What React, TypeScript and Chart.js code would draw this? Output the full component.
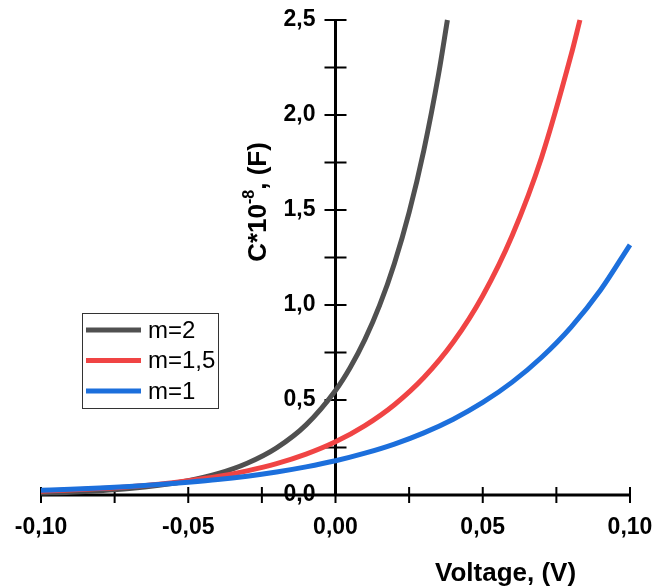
import React, { useEffect, useRef } from "react";
import { Chart, registerables } from "chart.js";

Chart.register(...registerables);

// ---- data ----
const voltageM2 = [-0.10, -0.09, -0.08, -0.07, -0.06, -0.05, -0.04, -0.03, -0.02, -0.01, 0.0, 0.005, 0.01, 0.015, 0.02, 0.025, 0.03, 0.035, 0.038];
const capM2 = [0.010, 0.015, 0.023, 0.034, 0.051, 0.075, 0.112, 0.167, 0.248, 0.369, 0.55, 0.671, 0.819, 0.999, 1.219, 1.488, 1.815, 2.215, 2.5];

const voltageM15 = [-0.10, -0.09, -0.08, -0.07, -0.06, -0.05, -0.04, -0.03, -0.02, -0.01, 0.0, 0.01, 0.02, 0.03, 0.04, 0.05, 0.06, 0.07, 0.08, 0.083];
const capM15 = [0.020, 0.026, 0.034, 0.044, 0.057, 0.075, 0.097, 0.127, 0.165, 0.215, 0.28, 0.365, 0.475, 0.618, 0.805, 1.049, 1.366, 1.778, 2.316, 2.5];

const voltageM1 = [-0.10, -0.09, -0.08, -0.07, -0.06, -0.05, -0.04, -0.03, -0.02, -0.01, 0.0, 0.01, 0.02, 0.03, 0.04, 0.05, 0.06, 0.07, 0.08, 0.09, 0.10];
const capM1 = [0.025, 0.030, 0.037, 0.045, 0.055, 0.067, 0.081, 0.099, 0.121, 0.148, 0.18, 0.220, 0.268, 0.327, 0.399, 0.487, 0.594, 0.725, 0.884, 1.079, 1.317];

const seriesNames = ["m=2", "m=1,5", "m=1"];
const seriesColors = ["#505050", "#f04444", "#1c6fdc"];

const xMajorTicks = [-0.10, -0.05, 0.0, 0.05, 0.10];
const xTickLabels = ["-0,10", "-0,05", "0,00", "0,05", "0,10"];
const xMinorTicks = [-0.075, -0.025, 0.025, 0.075];

const yMajorTicks = [0.0, 0.5, 1.0, 1.5, 2.0, 2.5];
const yTickLabels = ["0,0", "0,5", "1,0", "1,5", "2,0", "2,5"];
const yMinorTicks = [0.25, 0.75, 1.25, 1.75, 2.25];

const xTitle = "Voltage, (V)";
const yTitleMain = "C*10";
const yTitleSup = "-8";
const yTitleTail = ", (F)";

const FONT = "'Liberation Sans', Arial, sans-serif";

const toPoints = (xs: number[], ys: number[]) => xs.map((x, i) => ({ x, y: ys[i] }));

const axesPlugin = {
  id: "customAxes",
  beforeDatasetsDraw(chart: any) {
    const ctx = chart.ctx as CanvasRenderingContext2D;
    const xs = chart.scales.x;
    const ys = chart.scales.y;
    const x0 = xs.getPixelForValue(0);
    const y0 = ys.getPixelForValue(0);
    ctx.save();
    ctx.fillStyle = "#000";
    // tick labels
    ctx.font = `bold 23px ${FONT}`;
    ctx.textAlign = "center";
    ctx.textBaseline = "middle";
    xMajorTicks.forEach((v, i) => {
      ctx.fillText(xTickLabels[i], xs.getPixelForValue(v), y0 + 33);
    });
    ctx.textAlign = "right";
    yMajorTicks.forEach((v, i) => {
      ctx.fillText(yTickLabels[i], x0 - 20, ys.getPixelForValue(v));
    });
    // axis lines
    ctx.strokeStyle = "#000";
    ctx.lineWidth = 3;
    ctx.lineCap = "butt";
    ctx.beginPath();
    ctx.moveTo(xs.getPixelForValue(-0.1) - 1, y0);
    ctx.lineTo(xs.getPixelForValue(0.1) + 1, y0);
    ctx.moveTo(x0, y0 + 1);
    ctx.lineTo(x0, ys.getPixelForValue(2.5) - 1);
    ctx.stroke();
    // ticks
    ctx.lineWidth = 2;
    ctx.beginPath();
    [...xMajorTicks, ...xMinorTicks].forEach((v) => {
      const px = xs.getPixelForValue(v);
      ctx.moveTo(px, y0 - 8);
      ctx.lineTo(px, y0 + 8);
    });
    [...yMajorTicks, ...yMinorTicks].forEach((v) => {
      const py = ys.getPixelForValue(v);
      ctx.moveTo(x0 - 11, py);
      ctx.lineTo(x0 + 11, py);
    });
    ctx.stroke();
    // x title
    ctx.font = `bold 26px ${FONT}`;
    ctx.textAlign = "left";
    ctx.textBaseline = "middle";
    ctx.fillText(xTitle, 435, 574);
    // y title (rotated)
    ctx.translate(257, 202);
    ctx.rotate(-Math.PI / 2);
    const mainFont = `bold 26px ${FONT}`;
    const supFont = `bold 16px ${FONT}`;
    ctx.font = mainFont;
    const w1 = ctx.measureText(yTitleMain).width;
    const w3 = ctx.measureText(yTitleTail).width;
    ctx.font = supFont;
    const w2 = ctx.measureText(yTitleSup).width;
    const total = w1 + w2 + w3;
    let cx = -total / 2;
    ctx.textAlign = "left";
    ctx.textBaseline = "alphabetic";
    ctx.font = mainFont;
    ctx.fillText(yTitleMain, cx, 9);
    cx += w1;
    ctx.font = supFont;
    ctx.fillText(yTitleSup, cx, -3);
    cx += w2;
    ctx.font = mainFont;
    ctx.fillText(yTitleTail, cx, 9);
    ctx.restore();
  },
  afterDatasetsDraw(chart: any) {
    const ctx = chart.ctx as CanvasRenderingContext2D;
    ctx.save();
    // legend box
    const bx = 82, by = 313, bw = 136, bh = 95;
    ctx.fillStyle = "#fff";
    ctx.fillRect(bx, by, bw, bh);
    ctx.strokeStyle = "#333";
    ctx.lineWidth = 1;
    ctx.strokeRect(bx + 0.5, by + 0.5, bw, bh);
    ctx.font = `24px ${FONT}`;
    ctx.textAlign = "left";
    ctx.textBaseline = "middle";
    seriesNames.forEach((name, i) => {
      const ly = by + 17 + i * 30.5;
      ctx.strokeStyle = seriesColors[i];
      ctx.lineWidth = 5;
      ctx.beginPath();
      ctx.moveTo(bx + 4, ly);
      ctx.lineTo(bx + 59, ly);
      ctx.stroke();
      ctx.fillStyle = "#000";
      ctx.fillText(name, bx + 66, ly + 1);
    });
    ctx.restore();
  },
};

export default function App() {
  const canvasRef = useRef<HTMLCanvasElement | null>(null);

  useEffect(() => {
    document.body.style.margin = "0";
    const canvas = canvasRef.current;
    if (!canvas) return;
    const makeDs = (label: string, xs: number[], ys: number[], color: string) => ({
      label,
      data: toPoints(xs, ys),
      borderColor: color,
      backgroundColor: color,
      borderWidth: 5,
      pointRadius: 0,
      tension: 0,
      cubicInterpolationMode: "monotone" as const,
      fill: false,
      clip: false as any,
    });
    const chart = new Chart(canvas, {
      type: "line",
      data: {
        datasets: [
          makeDs(seriesNames[2], voltageM1, capM1, seriesColors[2]),
          makeDs(seriesNames[1], voltageM15, capM15, seriesColors[1]),
          makeDs(seriesNames[0], voltageM2, capM2, seriesColors[0]),
        ],
      },
      options: {
        responsive: false,
        animation: false,
        devicePixelRatio: 1,
        layout: { padding: { left: 41, right: 24, top: 20, bottom: 92 } },
        plugins: { legend: { display: false }, tooltip: { enabled: false } },
        scales: {
          x: { type: "linear", min: -0.1, max: 0.1, display: false },
          y: { type: "linear", min: 0, max: 2.5, display: false },
        },
      },
      plugins: [axesPlugin],
    });
    return () => chart.destroy();
  }, []);

  return (
    <div style={{ width: 654, height: 587, background: "#fff" }}>
      <canvas ref={canvasRef} width={654} height={587} style={{ display: "block" }} />
    </div>
  );
}
